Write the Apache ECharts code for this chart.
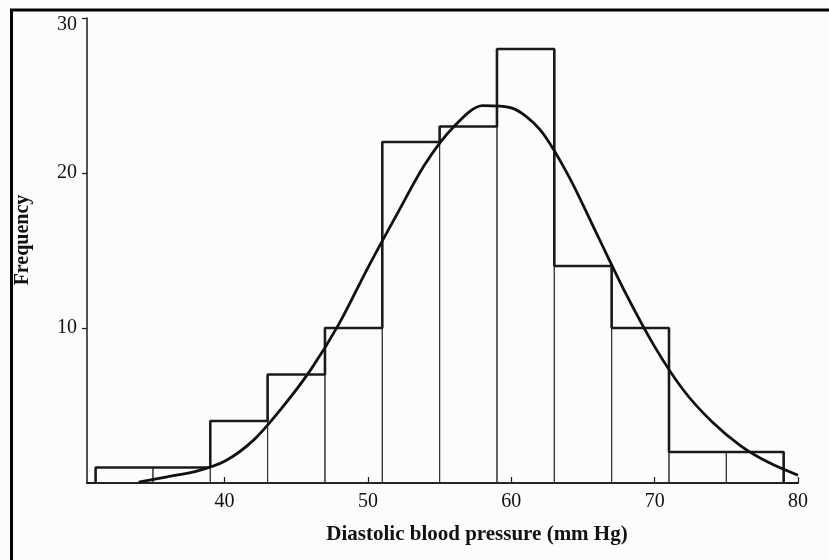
<!DOCTYPE html>
<html>
<head>
<meta charset="utf-8">
<script src="https://cdn.jsdelivr.net/npm/echarts@6/dist/echarts.min.js"></script>
<style>
  html, body { margin: 0; padding: 0; background: #fcfcfc; }
  #chart { width: 829px; height: 560px; }
</style>
</head>
<body>
<div id="chart"></div>
<script>
// histogram bins (lower edge) and counts
const binStart = [31, 35, 39, 43, 47, 51, 55, 59, 63, 67, 71, 75]
const binWidth = 4
const freq = [1, 1, 4, 7, 10, 22, 23, 28, 14, 10, 2, 2]

// fitted curve, every 2 mm Hg
const curveX = [34, 36, 38, 40, 42, 44, 46, 48, 50, 52, 54, 56, 58, 60, 62, 64, 66, 68, 70, 72, 74, 76, 78, 80]
const curveY = [0.05, 0.4, 0.75, 1.4, 2.75, 4.85, 7.3, 10.3, 13.9, 17.3, 20.6, 23.0, 24.35, 24.2, 22.8, 19.8, 16.0, 12.2, 8.8, 6.0, 3.95, 2.4, 1.3, 0.5]

const xTicks = [40, 50, 60, 70, 80]
const yTicks = [10, 20, 30]

const ink = '#1a1a1a'
const serif = '"Liberation Serif", "DejaVu Serif", serif'

const barData = binStart.map((s, i) => [s, s + binWidth, freq[i]])

// outer staircase of the histogram
const outline = [[binStart[0], 0]]
binStart.forEach((s, i) => {
  outline.push([s, freq[i]])
  outline.push([s + binWidth, freq[i]])
})
outline.push([binStart[binStart.length - 1] + binWidth, 0])

const curveData = curveX.map((x, i) => [x, curveY[i]])

const chart = echarts.init(document.getElementById('chart'))
chart.setOption({
  animation: false,
  backgroundColor: '#fcfcfc',
  grid: { left: 87, right: 31, top: 18, bottom: 77 },
  xAxis: {
    type: 'value',
    min: 30.4,
    max: 80,
    axisLine: { lineStyle: { color: ink, width: 2 } },
    axisTick: {
      show: true,
      inside: true,
      length: 6,
      customValues: xTicks,
      lineStyle: { color: ink, width: 1.2 }
    },
    axisLabel: {
      customValues: xTicks,
      color: '#111',
      fontFamily: serif,
      fontSize: 20,
      margin: 9
    },
    splitLine: { show: false }
  },
  yAxis: {
    type: 'value',
    min: 0,
    max: 30,
    interval: 10,
    axisLine: { show: true, lineStyle: { color: ink, width: 1.5 } },
    axisTick: {
      show: true,
      length: 5,
      customValues: yTicks,
      lineStyle: { color: ink, width: 1.2 }
    },
    axisLabel: {
      customValues: yTicks,
      color: '#111',
      fontFamily: serif,
      fontSize: 20,
      margin: 10,
      formatter: v => (v === 30 ? '{top|30}' : String(v)),
      rich: {
        top: { fontFamily: serif, fontSize: 20, color: '#111', padding: [14, 0, 0, 0] }
      }
    },
    splitLine: { show: false }
  },
  series: [
    {
      type: 'custom',
      data: barData,
      encode: { x: [0, 1], y: 2 },
      silent: true,
      renderItem (params, api) {
        const p0 = api.coord([api.value(0), 0])
        const p1 = api.coord([api.value(1), api.value(2)])
        return {
          type: 'rect',
          shape: { x: p0[0], y: p1[1], width: p1[0] - p0[0], height: p0[1] - p1[1] },
          style: { fill: 'none', stroke: '#333', lineWidth: 1 }
        }
      }
    },
    {
      type: 'line',
      data: outline,
      symbol: 'none',
      silent: true,
      lineStyle: { color: ink, width: 2.6 }
    },
    {
      type: 'line',
      data: curveData,
      smooth: 0.3,
      symbol: 'none',
      silent: true,
      lineStyle: { color: '#111', width: 2.8 }
    }
  ],
  graphic: [
    {
      type: 'rect',
      shape: { x: 11.5, y: 10, width: 900, height: 700 },
      style: { fill: 'none', stroke: '#000', lineWidth: 3 },
      silent: true
    },
    {
      type: 'text',
      x: 23,
      y: 240,
      rotation: Math.PI / 2,
      style: {
        text: 'Frequency',
        fill: '#111',
        font: 'bold 20px ' + serif,
        align: 'center',
        verticalAlign: 'middle'
      }
    },
    {
      type: 'text',
      x: 477,
      y: 535,
      style: {
        text: 'Diastolic blood pressure (mm Hg)',
        fill: '#111',
        font: 'bold 21px ' + serif,
        align: 'center',
        verticalAlign: 'middle'
      }
    }
  ]
})
</script>
</body>
</html>
